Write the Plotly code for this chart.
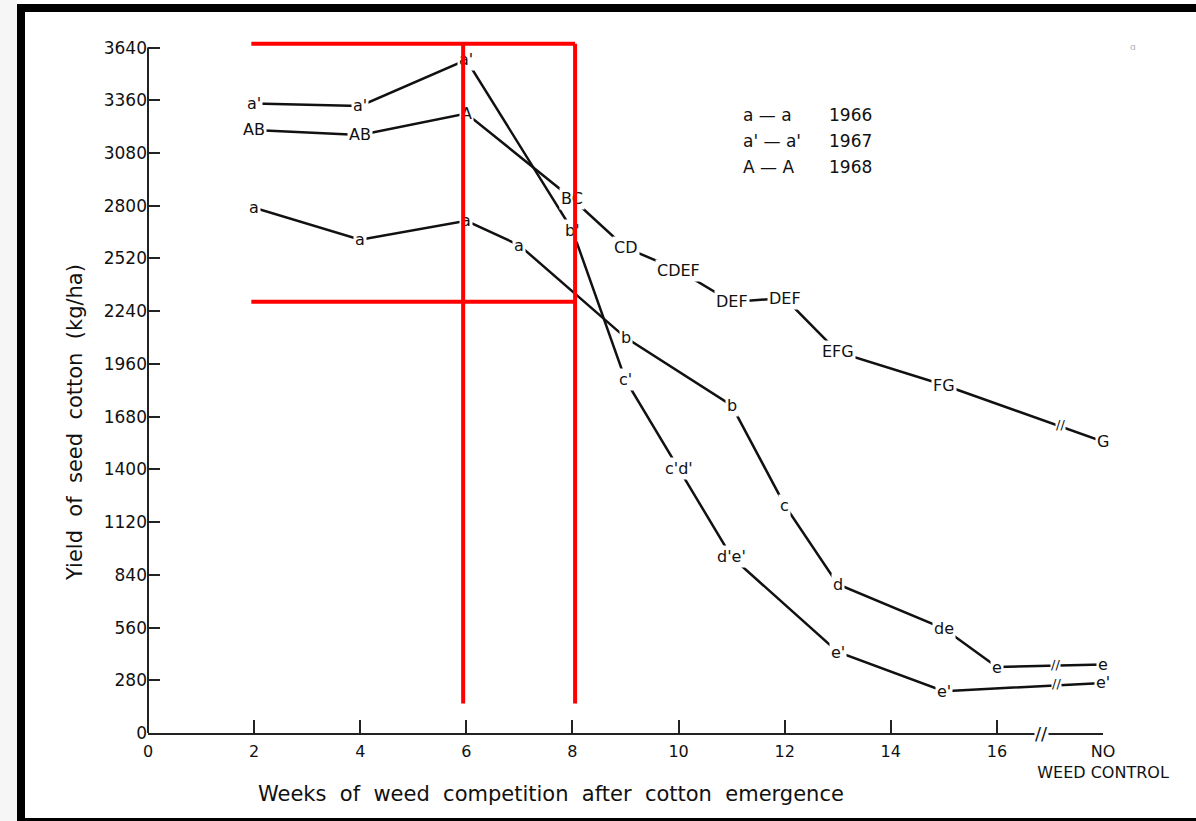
import plotly.graph_objects as go

# ---------------- data ----------------
weeks_1966 = [2, 4, 6, 7, 9, 11, 12, 13, 15, 16, 18]
yield_1966 = [2790, 2620, 2720, 2590, 2100, 1740, 1210, 790, 555, 350, 364]
labels_1966 = ["a", "a", "a", "a", "b", "b", "c", "d", "de", "e", "e"]

weeks_1967 = [2, 4, 6, 8, 9, 10, 11, 13, 15, 18]
yield_1967 = [3343, 3330, 3575, 2670, 1875, 1405, 935, 430, 222, 266]
labels_1967 = ["a'", "a'", "a'", "b'", "c'", "c'd'", "d'e'", "e'", "e'", "e'"]

weeks_1968 = [2, 4, 6, 8, 9, 10, 11, 12, 13, 15, 18]
yield_1968 = [3203, 3176, 3290, 2836, 2578, 2458, 2289, 2310, 2024, 1848, 1548]
labels_1968 = ["AB", "AB", "A", "BC", "CD", "CDEF", "DEF", "DEF", "EFG", "FG", "G"]

x_tickvals = [0, 2, 4, 6, 8, 10, 12, 14, 16, 18]
x_ticktext = ["0", "2", "4", "6", "8", "10", "12", "14", "16", "NO<br>WEED CONTROL"]
y_tickvals = [0, 280, 560, 840, 1120, 1400, 1680, 1960, 2240, 2520, 2800, 3080, 3360, 3640]

legend_keys = ["a \u2014 a", "a' \u2014 a'", "A \u2014 A"]
legend_years = ["1966", "1967", "1968"]

# axis-break marks (x, y)
break_x = [16.85, 17.1, 17.12, 17.2]
break_y = [0, 364, 262, 1636]

# red highlight lines drawn over the scan
red_x = [1.92, 5.94, 8.05]
red_y = [149, 2290, 3660]

FONT = "DejaVu Sans"
INK = "#111111"

# ---------------- figure ----------------
fig = go.Figure()

series = [
    (weeks_1966, yield_1966, labels_1966),
    (weeks_1967, yield_1967, labels_1967),
    (weeks_1968, yield_1968, labels_1968),
]

for wx, wy, _ in series:
    fig.add_trace(go.Scatter(
        x=wx, y=wy, mode="lines",
        line=dict(color=INK, width=2.5),
        showlegend=False, hoverinfo="skip", cliponaxis=False,
    ))

# ---------------- helpers for page positions ----------------
L, R, T, B = 148, 93, 41, 88
W, H = 1196, 821
PW, PH = W - L - R, H - T - B


def px_x(p):
    return (p - L) / PW


def px_y(p):
    return (H - B - p) / PH


shapes = []
# page background strip + black frame of the slide
shapes.append(dict(type="rect", xref="paper", yref="paper",
                   x0=px_x(0), x1=px_x(17), y0=px_y(H), y1=px_y(0),
                   fillcolor="#f6f6f7", line=dict(width=0), layer="below"))
shapes.append(dict(type="rect", xref="paper", yref="paper",
                   x0=px_x(17), x1=px_x(25), y0=px_y(H), y1=px_y(4),
                   fillcolor="black", line=dict(width=0)))
shapes.append(dict(type="rect", xref="paper", yref="paper",
                   x0=px_x(17), x1=px_x(W), y0=px_y(12), y1=px_y(4),
                   fillcolor="black", line=dict(width=0)))
shapes.append(dict(type="rect", xref="paper", yref="paper",
                   x0=px_x(25), x1=px_x(W), y0=px_y(H), y1=px_y(818),
                   fillcolor="black", line=dict(width=0)))
# y axis line (0 .. 3640)
shapes.append(dict(type="line", xref="paper", yref="y",
                   x0=0, x1=0, y0=0, y1=y_tickvals[-1],
                   line=dict(color="#222222", width=2)))

annotations = []

# letter labels on the points (white box makes the lines stop short of them)
for wx, wy, wl in series:
    for xv, yv, t in zip(wx, wy, wl):
        annotations.append(dict(xref="x", yref="y", x=xv, y=yv, text=t,
                                showarrow=False, bgcolor="white", borderpad=1,
                                xanchor="center", yanchor="middle",
                                font=dict(family=FONT, size=16, color=INK)))

# axis-break marks
for i, (bx, by) in enumerate(zip(break_x, break_y)):
    annotations.append(dict(xref="x", yref="y", x=bx, y=by, showarrow=False,
                            text="//", bgcolor="white", borderpad=0,
                            font=dict(family=FONT, size=18 if i == 0 else 13,
                                      color=INK)))

# legend
for i, (k, yr) in enumerate(zip(legend_keys, legend_years)):
    yy = px_y(115 + i * 26)
    annotations.append(dict(xref="paper", yref="paper", x=px_x(741), y=yy,
                            xanchor="left", yanchor="middle", showarrow=False,
                            text=k, font=dict(family=FONT, size=17, color=INK)))
    annotations.append(dict(xref="paper", yref="paper", x=px_x(827), y=yy,
                            xanchor="left", yanchor="middle", showarrow=False,
                            text=yr, font=dict(family=FONT, size=17, color=INK)))

# axis titles
annotations.append(dict(xref="paper", yref="paper", x=px_x(551), y=px_y(794),
                        xanchor="center", yanchor="middle", showarrow=False,
                        text="Weeks  of  weed  competition  after  cotton  emergence",
                        font=dict(family=FONT, size=21, color=INK)))
annotations.append(dict(xref="paper", yref="paper", x=px_x(75), y=px_y(423),
                        xanchor="center", yanchor="middle", showarrow=False,
                        textangle=-90,
                        text="Yield  of  seed  cotton  (kg/ha)",
                        font=dict(family=FONT, size=21, color=INK)))
# scan speck in the corner
annotations.append(dict(xref="paper", yref="paper", x=px_x(1138), y=px_y(40),
                        showarrow=False, text="\u0251",
                        font=dict(family=FONT, size=9, color="#aaaaaa")))

# red highlight lines (drawn last so they sit over the labels, as in the scan)
red_segments = [
    (red_x[0], red_y[2], red_x[2], red_y[2]),
    (red_x[0], red_y[1], red_x[2], red_y[1]),
    (red_x[1], red_y[0], red_x[1], red_y[2]),
    (red_x[2], red_y[0], red_x[2], red_y[2]),
]
for x0, y0, x1, y1 in red_segments:
    annotations.append(dict(xref="x", yref="y", axref="x", ayref="y",
                            x=x1, y=y1, ax=x0, ay=y0, text="",
                            showarrow=True, arrowhead=0, arrowwidth=4,
                            arrowcolor="#ff0000", standoff=0, startstandoff=0))

fig.update_layout(
    width=W, height=H,
    margin=dict(l=L, r=R, t=T, b=B, pad=0),
    paper_bgcolor="white", plot_bgcolor="white",
    showlegend=False,
    shapes=shapes,
    annotations=annotations,
    xaxis=dict(range=[0, 18], tickmode="array", tickvals=x_tickvals,
               ticktext=x_ticktext, ticks="inside", ticklen=13, tickwidth=2,
               tickcolor="#222222", showline=True, linecolor="#222222",
               linewidth=2, showgrid=False, zeroline=False,
               ticklabelstandoff=3,
               tickfont=dict(family=FONT, size=16, color=INK)),
    yaxis=dict(range=[0, 3675], tickmode="array", tickvals=y_tickvals,
               ticks="inside", ticklen=12, tickwidth=2, tickcolor="#222222",
               showline=False, showgrid=False, zeroline=False,
               tickfont=dict(family=FONT, size=17, color=INK)),
)

fig.write_html("out.html", config={"displayModeBar": False},
               post_script="document.body.style.margin='0';")
